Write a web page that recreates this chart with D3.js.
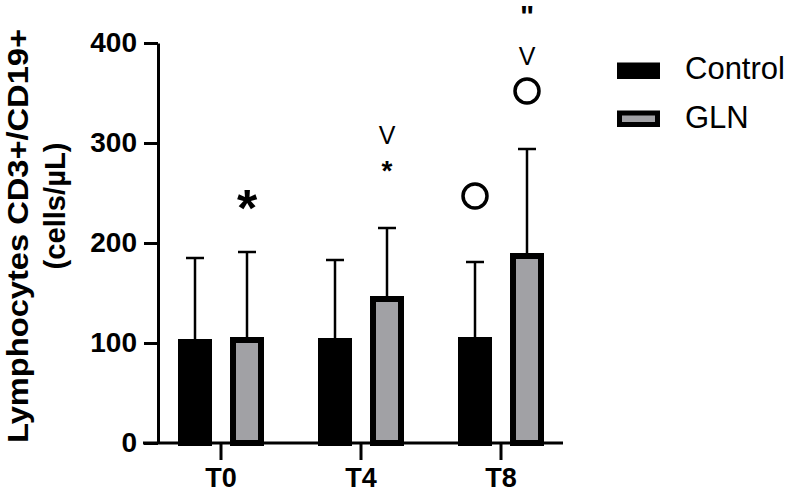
<!DOCTYPE html>
<html>
<head>
<meta charset="utf-8">
<script src="https://cdn.jsdelivr.net/npm/d3@7"></script>
<style>
  body { margin: 0; background: #fff; }
  svg { display: block; font-family: "Liberation Sans", Arial, sans-serif; }
</style>
</head>
<body>
<div id="chart"></div>
<script>
// values
var categories = ["T0", "T4", "T8"];
var series = ["Control", "GLN"];
var controlMean = [101, 102, 103];
var glnMean = [103, 144, 187];
var controlSD = [84, 81, 78];
var glnSD = [88, 71, 107];
var yTicks = [0, 100, 200, 300, 400];

// significance marks above the bars (value = height on the y scale)
var marks = [
  { cat: "T0", group: "GLN", sym: "bigstar", value: 247 },
  { cat: "T4", group: "GLN", sym: "vee", value: 308 },
  { cat: "T4", group: "GLN", sym: "star", value: 279 },
  { cat: "T8", group: "GLN", sym: "quote", value: 436 },
  { cat: "T8", group: "GLN", sym: "vee", value: 387 },
  { cat: "T8", group: "GLN", sym: "circle", value: 352 },
  { cat: "T8", group: "Control", sym: "circle", value: 247 }
];

var width = 789, height = 493;
var gray = "#a1a1a5";

var svg = d3.select("#chart")
  .append("svg")
  .attr("width", width)
  .attr("height", height);

var axisX = 158;
var y = d3.scaleLinear().domain([0, 400]).range([443, 43]);
var x = d3.scaleBand().domain(categories).range([151, 571]);
var xSub = d3.scalePoint().domain(series).range([-26, 26]);

var barW = 28, barStroke = 6;

var rows = [];
categories.forEach(function(c, i) {
  rows.push({ cat: c, group: "Control", mean: controlMean[i], sd: controlSD[i] });
  rows.push({ cat: c, group: "GLN", mean: glnMean[i], sd: glnSD[i] });
});

function cx(d) { return x(d.cat) + x.bandwidth() / 2 + xSub(d.group); }

// error bars (upper only)
svg.selectAll(".err")
  .data(rows)
  .enter().append("line")
  .attr("x1", cx).attr("x2", cx)
  .attr("y1", function(d) { return y(d.mean); })
  .attr("y2", function(d) { return y(d.mean + d.sd); })
  .attr("stroke", "#000")
  .attr("stroke-width", 2.5);

svg.selectAll(".cap")
  .data(rows)
  .enter().append("line")
  .attr("x1", function(d) { return cx(d) - 9; })
  .attr("x2", function(d) { return cx(d) + 9; })
  .attr("y1", function(d) { return y(d.mean + d.sd); })
  .attr("y2", function(d) { return y(d.mean + d.sd); })
  .attr("stroke", "#000")
  .attr("stroke-width", 2.5);

// bars
svg.selectAll(".bar")
  .data(rows)
  .enter().append("rect")
  .attr("x", function(d) { return cx(d) - barW / 2; })
  .attr("y", function(d) { return y(d.mean); })
  .attr("width", barW)
  .attr("height", function(d) { return y(0) - y(d.mean); })
  .attr("fill", function(d) { return d.group === "Control" ? "#000" : gray; })
  .attr("stroke", "#000")
  .attr("stroke-width", barStroke);

// y axis
var yAxis = svg.append("g")
  .attr("transform", "translate(" + axisX + ",0)")
  .call(d3.axisLeft(y).tickValues(yTicks).tickSize(14).tickSizeOuter(0).tickPadding(7));
yAxis.select(".domain").attr("stroke-width", 3);
yAxis.selectAll(".tick line").attr("stroke-width", 3);
yAxis.selectAll(".tick text")
  .attr("font-size", 28)
  .attr("font-weight", "bold")
  .attr("font-family", "Liberation Sans, Arial, sans-serif")
  .attr("fill", "#000");

// x axis
var xAxis = svg.append("g")
  .attr("transform", "translate(0," + y(0) + ")")
  .call(d3.axisBottom(x).tickSize(17).tickSizeOuter(0).tickPadding(8));
xAxis.select(".domain").remove();
xAxis.append("line")
  .attr("x1", axisX - 15).attr("x2", x.range()[1] - 8)
  .attr("stroke", "#000")
  .attr("stroke-width", 3);
xAxis.selectAll(".tick line").attr("stroke-width", 3);
xAxis.selectAll(".tick text")
  .attr("font-size", 27)
  .attr("font-weight", "bold")
  .attr("font-family", "Liberation Sans, Arial, sans-serif")
  .attr("fill", "#000");

// y label, two lines
svg.append("text")
  .attr("transform", "rotate(-90)")
  .attr("x", -236).attr("y", 28)
  .attr("text-anchor", "middle")
  .attr("font-size", 30)
  .attr("font-weight", "bold")
  .attr("textLength", 414)
  .attr("lengthAdjust", "spacingAndGlyphs")
  .text("Lymphocytes CD3+/CD19+");
svg.append("text")
  .attr("transform", "rotate(-90)")
  .attr("x", -206).attr("y", 65)
  .attr("text-anchor", "middle")
  .attr("font-size", 30)
  .attr("font-weight", "bold")
  .attr("textLength", 127)
  .attr("lengthAdjust", "spacingAndGlyphs")
  .text("(cells/\u00b5L)");

// marks
var symText = {
  bigstar: { t: "*", size: 52, weight: "bold", off: 0.57 },
  star: { t: "*", size: 28, weight: "bold", off: 0.57 },
  vee: { t: "V", size: 25, weight: "normal", off: 0.36 },
  quote: { t: "\"", size: 30, weight: "bold", off: 0.62 }
};
marks.forEach(function(m) {
  var px = x(m.cat) + x.bandwidth() / 2 + xSub(m.group);
  var py = y(m.value);
  if (m.sym === "circle") {
    svg.append("circle")
      .attr("cx", px).attr("cy", py).attr("r", 12)
      .attr("fill", "none")
      .attr("stroke", "#000")
      .attr("stroke-width", 3.5);
  } else {
    var s = symText[m.sym];
    svg.append("text")
      .attr("x", px)
      .attr("y", py + s.off * s.size)
      .attr("text-anchor", "middle")
      .attr("font-size", s.size)
      .attr("font-weight", s.weight)
      .text(s.t);
  }
});

// legend
var legend = svg.append("g");
series.forEach(function(name, i) {
  var ly = 62.5 + i * 48;
  legend.append("rect")
    .attr("x", 619.5).attr("y", ly + 2.5)
    .attr("width", 38).attr("height", 11.5)
    .attr("fill", i === 0 ? "#000" : gray)
    .attr("stroke", "#000")
    .attr("stroke-width", 5);
  legend.append("text")
    .attr("x", 685).attr("y", ly + 16 + i * 1)
    .attr("font-size", 31)
    .text(name);
});
</script>
</body>
</html>
